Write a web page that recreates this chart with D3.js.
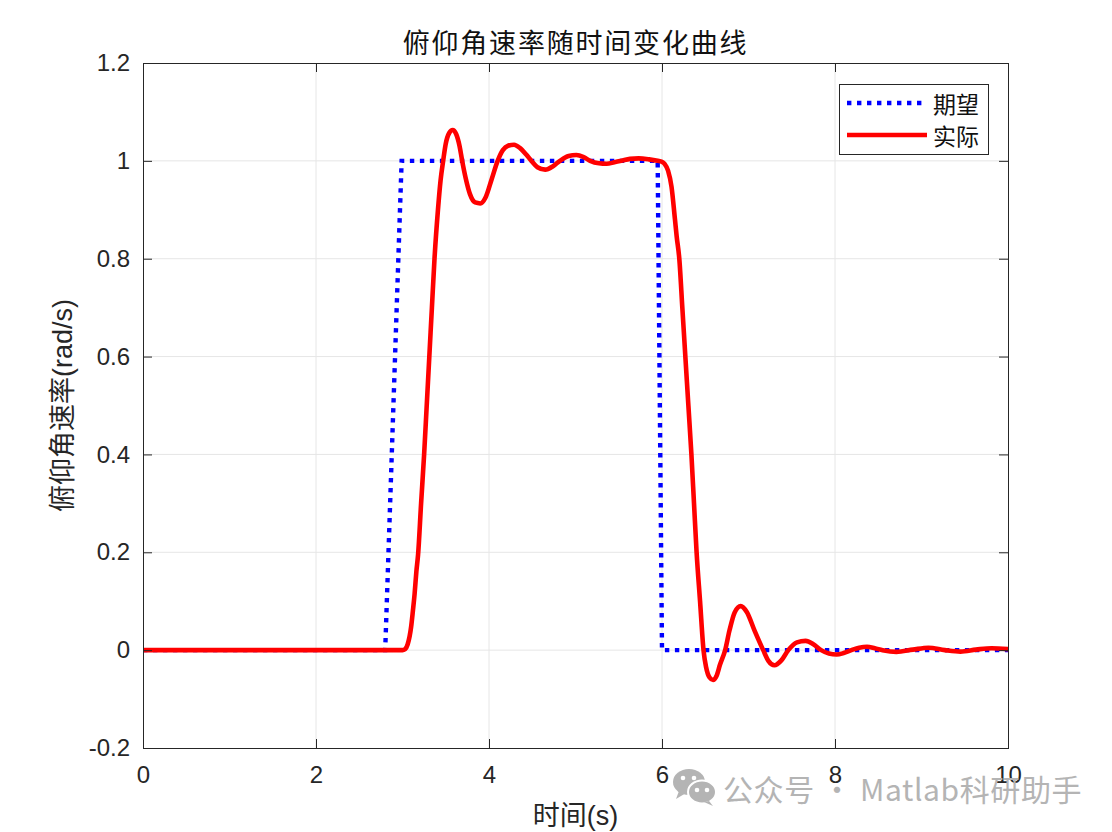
<!DOCTYPE html>
<html>
<head>
<meta charset="utf-8">
<script src="https://cdn.jsdelivr.net/npm/d3@7"></script>
<style>
  html, body { margin: 0; padding: 0; background: #fff; }
  svg { display: block; }
</style>
</head>
<body>
<div id="chart"></div>
<script>
// ---- Data ----
const xTicks = [0, 2, 4, 6, 8, 10];
const yTicks = [-0.2, 0, 0.2, 0.4, 0.6, 0.8, 1, 1.2];

const desiredTime  = [0, 2.80, 2.99, 5.95, 6.00, 10];
const desiredValue = [0, 0,    1,    1,    0,    0];

const actualTime = [
  0, 2.95, 3.00, 3.03, 3.06, 3.10, 3.12, 3.14, 3.16, 3.18, 3.215, 3.25, 3.28, 3.31, 3.34, 3.37, 3.41, 3.44, 3.47,
  3.50, 3.54, 3.58, 3.62, 3.66, 3.69, 3.73, 3.78, 3.84, 3.90, 3.96, 4.03, 4.10, 4.16, 4.22, 4.29, 4.36, 4.43,
  4.49, 4.56, 4.65, 4.74, 4.82, 4.92, 5.01, 5.10, 5.17, 5.27, 5.36, 5.45, 5.53, 5.63, 5.73, 5.85, 5.95,
  6.00, 6.03, 6.07, 6.11, 6.15, 6.17, 6.20, 6.235, 6.27, 6.305, 6.34, 6.37, 6.40, 6.44, 6.48,
  6.51, 6.55, 6.59, 6.63, 6.67, 6.73, 6.78, 6.84, 6.91, 6.98, 7.07, 7.17, 7.23, 7.30, 7.38, 7.46,
  7.56, 7.66, 7.75, 7.84, 7.93, 8.02, 8.10, 8.19, 8.28, 8.37, 8.46, 8.55, 8.71, 8.90, 9.08,
  9.27, 9.45, 9.63, 9.81, 10.0
];
const actualValue = [
  0, 0, 0, 0.002, 0.012, 0.048, 0.08, 0.115, 0.16, 0.195, 0.3, 0.4, 0.5, 0.6, 0.7, 0.8, 0.9, 0.96, 1.0,
  1.035, 1.057, 1.063, 1.055, 1.03, 1.0, 0.965, 0.932, 0.915, 0.913, 0.925, 0.962, 1.0, 1.022, 1.031, 1.033, 1.026, 1.013,
  1.0, 0.987, 0.982, 0.989, 1.0, 1.010, 1.012, 1.007, 1.0, 0.995, 0.994, 0.997, 1.0, 1.004, 1.005, 1.003, 1.0,
  0.998, 0.994, 0.98, 0.947, 0.88, 0.845, 0.8, 0.7, 0.6, 0.5, 0.4, 0.3, 0.2, 0.1, 0,
  -0.035, -0.056, -0.061, -0.053, -0.03, 0, 0.04, 0.077, 0.09, 0.078, 0.04, 0, -0.022, -0.031, -0.021, 0,
  0.016, 0.019, 0.012, 0, -0.007, -0.009, -0.006, 0, 0.005, 0.007, 0.004, 0, -0.0035, 0.001, 0.005,
  0, -0.003, 0.001, 0.004, 0.002
];

const titleText = "俯仰角速率随时间变化曲线";
const xLabelText = "时间(s)";
const yLabelText = "俯仰角速率(rad/s)";
const legendLabels = ["期望", "实际"];
const watermarkText = "公众号 · Matlab科研助手";

// ---- Layout ----
const W = 1112, H = 832;
const L = 143, R = 1008, T = 63, B = 748;
const axisColor = "#262626";
const latin = "'Liberation Sans', Arial, Helvetica, sans-serif";
const cjk = "'Liberation Sans', 'Noto Sans CJK SC', sans-serif";

const svg = d3.select("#chart").append("svg")
  .attr("width", W).attr("height", H)
  .style("background", "#fff");

const x = d3.scaleLinear().domain([0, 10]).range([L, R]);
const y = d3.scaleLinear().domain([-0.2, 1.2]).range([B, T]);

// grid
const grid = svg.append("g");
grid.selectAll(".gx").data(xTicks.slice(1, -1)).join("line")
  .attr("x1", d => x(d)).attr("x2", d => x(d))
  .attr("y1", T).attr("y2", B)
  .attr("stroke", "#e6e6e6").attr("stroke-width", 1);
grid.selectAll(".gy").data(yTicks.slice(1, -1)).join("line")
  .attr("x1", L).attr("x2", R)
  .attr("y1", d => y(d)).attr("y2", d => y(d))
  .attr("stroke", "#e6e6e6").attr("stroke-width", 1);

// clip
svg.append("defs").append("clipPath").attr("id", "clip")
  .append("rect").attr("x", L).attr("y", T).attr("width", R - L).attr("height", B - T);

const fmt = d => String(+d.toFixed(1));

// lines
const desired = desiredTime.map((t, i) => [t, desiredValue[i]]);
const actual = actualTime.map((t, i) => [t, actualValue[i]]);

const plot = svg.append("g").attr("clip-path", "url(#clip)");
plot.append("path")
  .datum(desired)
  .attr("d", d3.line().x(d => x(d[0])).y(d => y(d[1])))
  .attr("fill", "none").attr("stroke", "#0000ff")
  .attr("stroke-width", 4.4).attr("stroke-dasharray", "4.4,5.6");
plot.append("path")
  .datum(actual)
  .attr("d", d3.line().x(d => x(d[0])).y(d => y(d[1])).curve(d3.curveMonotoneX))
  .attr("fill", "none").attr("stroke", "#ff0000")
  .attr("stroke-width", 4.6).attr("stroke-linejoin", "round");

// axes
function styleAxis(g) {
  g.select(".domain").remove();
  g.selectAll(".tick line").attr("stroke", axisColor).attr("stroke-width", 1);
  g.selectAll(".tick text").attr("fill", "#262626")
    .style("font-family", latin).style("font-size", "24px");
}
svg.append("g").attr("transform", `translate(0,${B})`)
  .call(d3.axisBottom(x).tickValues(xTicks).tickSize(-9).tickPadding(18).tickFormat(fmt))
  .call(styleAxis);
svg.append("g").attr("transform", `translate(0,${T})`)
  .call(d3.axisTop(x).tickValues(xTicks).tickSize(-9).tickFormat(""))
  .call(styleAxis);
svg.append("g").attr("transform", `translate(${L},0)`)
  .call(d3.axisLeft(y).tickValues(yTicks).tickSize(-9).tickPadding(13).tickFormat(fmt))
  .call(styleAxis);
svg.append("g").attr("transform", `translate(${R},0)`)
  .call(d3.axisRight(y).tickValues(yTicks).tickSize(-9).tickFormat(""))
  .call(styleAxis);

// box
svg.append("rect").attr("x", L + 0.5).attr("y", T + 0.5)
  .attr("width", R - L).attr("height", B - T)
  .attr("fill", "none").attr("stroke", axisColor).attr("stroke-width", 1);

// title & labels
svg.append("text").attr("x", (L + R) / 2).attr("y", 53)
  .attr("text-anchor", "middle").attr("fill", "#111")
  .style("font-family", cjk).style("font-size", "27px").style("letter-spacing", "1.8px")
  .text(titleText);
svg.append("text").attr("x", (L + R) / 2).attr("y", 825)
  .attr("text-anchor", "middle").attr("fill", "#262626")
  .style("font-family", cjk).style("font-size", "27px")
  .text(xLabelText);
svg.append("text")
  .attr("transform", `translate(72,${(T + B) / 2}) rotate(-90)`)
  .attr("text-anchor", "middle").attr("fill", "#262626")
  .style("font-family", cjk).style("font-size", "27px")
  .text(yLabelText);

// legend
const lg = svg.append("g");
lg.append("rect").attr("x", 839.5).attr("y", 84.5).attr("width", 149).attr("height", 70)
  .attr("fill", "#fff").attr("stroke", axisColor).attr("stroke-width", 1);
lg.append("line").attr("x1", 847).attr("x2", 924).attr("y1", 103).attr("y2", 103)
  .attr("stroke", "#0000ff").attr("stroke-width", 4.4).attr("stroke-dasharray", "4.4,5.6");
lg.append("line").attr("x1", 847).attr("x2", 927).attr("y1", 135).attr("y2", 135)
  .attr("stroke", "#ff0000").attr("stroke-width", 4.6);
lg.selectAll(".lt").data(legendLabels).join("text")
  .attr("x", 933).attr("y", (d, i) => 113 + i * 32)
  .attr("fill", "#111")
  .style("font-family", cjk).style("font-size", "23px")
  .text(d => d);

// watermark
const wm = svg.append("g").attr("fill", "#b4b4b4");
wm.append("ellipse").attr("cx", 689).attr("cy", 782).attr("rx", 16).attr("ry", 13);
wm.append("path").attr("d", "M679,791 L676,799 L686,793 Z");
wm.append("ellipse").attr("cx", 702).attr("cy", 792).attr("rx", 14).attr("ry", 11.5)
  .attr("stroke", "#fff").attr("stroke-width", 2);
wm.append("path").attr("d", "M709,801 L713,806 L704,802 Z");
[[683, 778], [694, 778], [697, 790], [707, 790]].forEach(p =>
  wm.append("circle").attr("cx", p[0]).attr("cy", p[1]).attr("r", 2.3).attr("fill", "#fff"));
wm.append("text").attr("x", 723).attr("y", 801)
  .attr("fill", "#b4b4b4")
  .style("font-family", "'Noto Sans CJK SC', 'Noto Sans', sans-serif").style("font-size", "30px")
  .style("letter-spacing", "0.6px")
  .text(watermarkText);
</script>
</body>
</html>
